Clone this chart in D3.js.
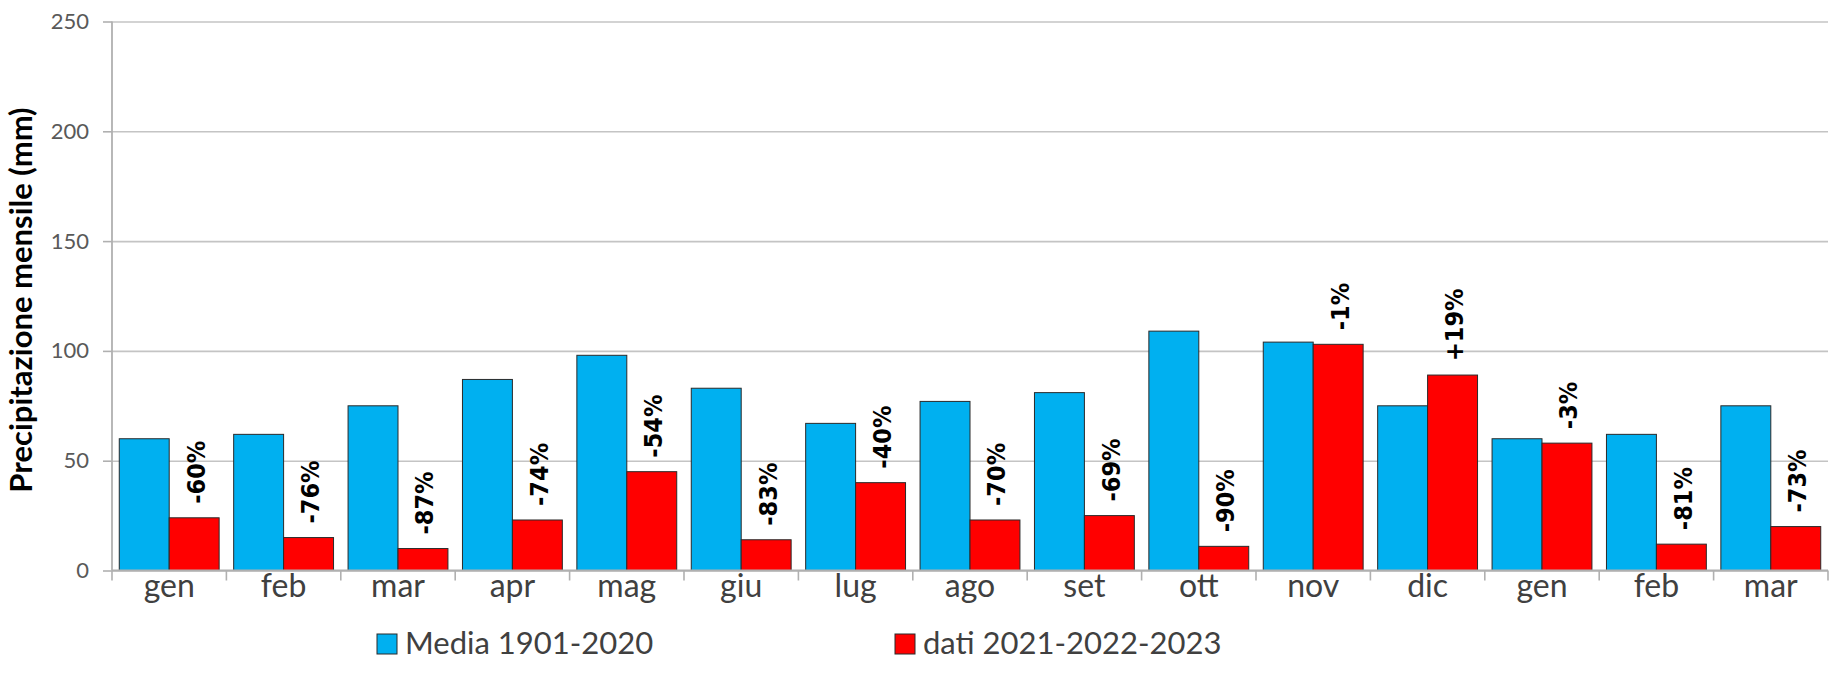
<!DOCTYPE html>
<html>
  <head>
    <meta http-equiv="Content-Type" content="text/html;charset=utf-8"/>
    <script type="text/javascript" src="https://cdn.jsdelivr.net/npm/d3@7"></script>
    <style type="text/css">
      body { margin: 0; background: #fff; }
      text { font-family: Lato, "Open Sans", sans-serif; }
      .tick-y text { fill: #595959; font-size: 22px; }
      .cat text { fill: #404040; font-size: 32px; }
      .pct {
        font-family: "DejaVu Sans Condensed", "DejaVu Sans", sans-serif;
        font-stretch: condensed;
        font-weight: bold;
        font-size: 25px;
        fill: #000;
      }
      .ytitle { font-weight: bold; font-size: 31px; fill: #000; }
      .legend text { fill: #404040; font-size: 31px; }
    </style>
  </head>
  <body>
    <svg id="con"></svg>
    <script type="text/javascript">

    var categories = ["gen", "feb", "mar", "apr", "mag", "giu", "lug", "ago", "set", "ott", "nov", "dic", "gen", "feb", "mar"];
    var media = [60, 62, 75, 87, 98, 83, 67, 77, 81, 109, 104, 75, 60, 62, 75];
    var dati = [24, 15, 10, 23, 45, 14, 40, 23, 25, 11, 103, 89, 58, 12, 20];
    var deltas = ["-60%", "-76%", "-87%", "-74%", "-54%", "-83%", "-40%", "-70%", "-69%", "-90%", "-1%", "+19%", "-3%", "-81%", "-73%"];
    var yTicks = [0, 50, 100, 150, 200, 250];
    var seriesNames = ["Media 1901-2020", "dati 2021-2022-2023"];
    var colors = ["#00b0f0", "#ff0000"];

    var W = 1832, H = 692;
    var plotL = 112, plotR = 1828, plotT = 21.5, plotB = 570.5;

    var svg = d3.select("#con").attr("width", W).attr("height", H);

    var x = d3.scaleBand()
        .domain(d3.range(categories.length))
        .range([plotL, plotR])
        .paddingInner(0.127)
        .paddingOuter(0.0635);
    var xs = d3.scaleBand().domain([0, 1]).range([0, x.bandwidth()]);
    var y = d3.scaleLinear().domain([0, 250]).range([plotB, plotT]);

    // gridlines
    svg.append("g")
        .attr("transform", "translate(" + plotL + ",0)")
        .call(d3.axisLeft(y).tickValues(yTicks).tickSize(-(plotR - plotL)).tickFormat(""))
        .call(function(g) { g.select(".domain").remove(); })
        .selectAll("line")
        .attr("stroke", "#c4c4c4")
        .attr("stroke-width", 1.6);

    // y axis
    var yAxis = svg.append("g")
        .attr("class", "tick-y")
        .attr("transform", "translate(" + plotL + ",0)")
        .call(d3.axisLeft(y).tickValues(yTicks).tickSize(9).tickPadding(14));
    yAxis.attr("font-family", null).attr("font-size", null);
    yAxis.selectAll("line").attr("stroke", "#b0b0b0").attr("stroke-width", 1.6);
    yAxis.select(".domain").attr("stroke", "#b0b0b0").attr("stroke-width", 1.8)
        .attr("d", "M0," + plotT + "V" + plotB);

    // bars
    var groups = svg.append("g").selectAll("g")
        .data(categories.map(function(c, i) { return {i: i, vals: [media[i], dati[i]]}; }))
        .enter().append("g")
        .attr("transform", function(d) { return "translate(" + x(d.i) + ",0)"; });

    groups.selectAll("rect")
        .data(function(d) { return d.vals; })
        .enter().append("rect")
        .attr("x", function(d, j) { return xs(j); })
        .attr("y", function(d) { return y(d); })
        .attr("width", xs.bandwidth())
        .attr("height", function(d) { return y(0) - y(d); })
        .attr("fill", function(d, j) { return colors[j]; })
        .attr("stroke", "#2a2a2a")
        .attr("stroke-width", 1);

    // x axis: line, boundary ticks, labels
    var half = x.step() * x.paddingInner() / 2;
    function edge(i) {
      return i < categories.length ? x(i) - half : x(i - 1) + x.bandwidth() + half;
    }
    svg.append("line")
        .attr("x1", plotL).attr("x2", plotR)
        .attr("y1", y(0)).attr("y2", y(0))
        .attr("stroke", "#b0b0b0").attr("stroke-width", 1.8);
    svg.append("g").selectAll("line")
        .data(d3.range(categories.length + 1))
        .enter().append("line")
        .attr("x1", edge)
        .attr("x2", edge)
        .attr("y1", y(0)).attr("y2", y(0) + 10)
        .attr("stroke", "#b0b0b0").attr("stroke-width", 1.6);

    var xAxis = svg.append("g")
        .attr("class", "cat")
        .attr("transform", "translate(0," + y(0) + ")")
        .call(d3.axisBottom(x).tickSize(0).tickFormat(function(i) { return categories[i]; }));
    xAxis.attr("font-family", null).attr("font-size", null);
    xAxis.select(".domain").remove();
    xAxis.selectAll("text").attr("dy", null).attr("y", 26);

    // percentage labels above the red bars
    svg.append("g").selectAll("text")
        .data(deltas)
        .enter().append("text")
        .attr("class", "pct")
        .attr("text-anchor", "start")
        .attr("dominant-baseline", "central")
        .attr("transform", function(d, i) {
          var cx = x(i) + xs(1) + xs.bandwidth() / 2 + 2;
          var cy = y(dati[i]) - 14;
          return "translate(" + cx + "," + cy + ") rotate(-90)";
        })
        .text(function(d) { return d; });

    // y title
    svg.append("text")
        .attr("class", "ytitle")
        .attr("text-anchor", "middle")
        .attr("transform", "translate(32,300) rotate(-90)")
        .text("Precipitazione mensile (mm)");

    // legend
    var legendX = [377, 895];
    var legend = svg.append("g").attr("class", "legend").selectAll("g")
        .data(seriesNames)
        .enter().append("g")
        .attr("transform", function(d, i) { return "translate(" + legendX[i] + ",634)"; });
    legend.append("rect")
        .attr("width", 20).attr("height", 20)
        .attr("fill", function(d, i) { return colors[i]; })
        .attr("stroke", "#2a2a2a").attr("stroke-width", 1);
    legend.append("text")
        .attr("x", 28).attr("y", 20)
        .text(function(d) { return d; });

    </script>
  </body>
</html>
